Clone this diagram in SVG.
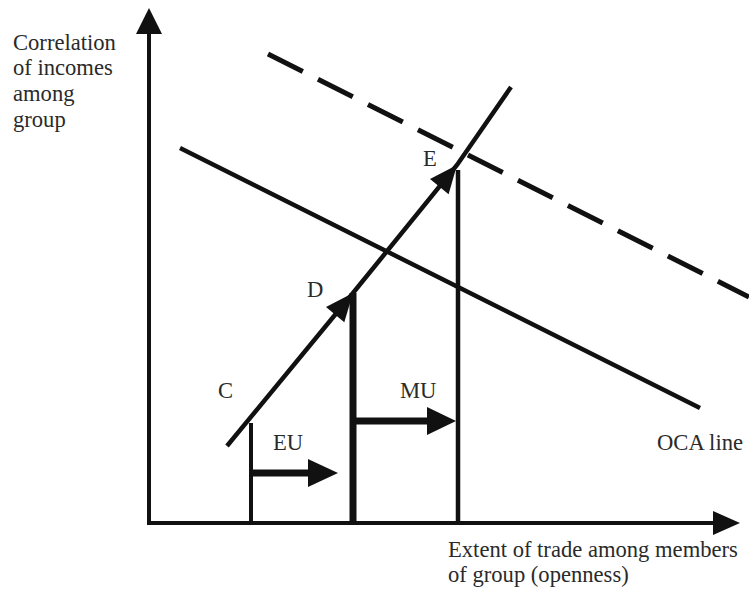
<svg xmlns="http://www.w3.org/2000/svg" width="749" height="602" viewBox="0 0 749 602">
<style>
.t{font-family:"Liberation Serif","Times New Roman",serif;font-size:22.6px;fill:#2a2a2a}
.ln{stroke:#111;fill:none;stroke-linecap:butt}
.hd{fill:#111;stroke:none}
</style>
<rect width="749" height="602" fill="#fff"/>
<g id="axes">
<line class="ln" x1="149" y1="525" x2="149" y2="30" stroke-width="4"/>
<polygon class="hd" points="149,8 162,34 136,34"/>
<line class="ln" x1="147" y1="523" x2="716" y2="523" stroke-width="4"/>
<polygon class="hd" points="740,523 713,511 713,535"/>
</g>
<g id="y-label">
<text class="t" x="13" y="50">Correlation</text>
<text class="t" x="13" y="75">of incomes</text>
<text class="t" x="13" y="101">among</text>
<text class="t" x="13" y="127">group</text>
</g>
<g id="x-label">
<text class="t" x="448" y="557">Extent of trade among members</text>
<text class="t" x="448" y="582">of group (openness)</text>
</g>
<g id="oca-line">
<line class="ln" x1="180" y1="148" x2="700" y2="408" stroke-width="4.5" stroke-linecap="round"/>
<text class="t" x="657" y="450">OCA line</text>
</g>
<g id="dashed-line">
<line class="ln" x1="268" y1="54" x2="749" y2="297" stroke-width="5" stroke-dasharray="39 17"/>
</g>
<g id="connectors">
<polyline class="ln" points="227,446 353,293 457,165 511,87" stroke-width="4.5" stroke-linecap="round"/>
<polygon class="hd" points="353,293 344.3,322.3 326,307"/>
<polygon class="hd" points="457,165 448.6,194.3 430,179.1"/>
<line class="ln" x1="251" y1="423" x2="251" y2="523" stroke-width="4"/>
<line class="ln" x1="353" y1="293" x2="353" y2="523" stroke-width="7"/>
<line class="ln" x1="458" y1="170" x2="458" y2="523" stroke-width="4.5"/>
<line class="ln" x1="251" y1="473" x2="310" y2="473" stroke-width="7"/>
<polygon class="hd" points="308,459 338,473 308,487"/>
<line class="ln" x1="353" y1="421" x2="429" y2="421" stroke-width="7"/>
<polygon class="hd" points="427,407 456,421 427,435"/>
</g>
<g id="node-C"><text class="t" x="218" y="398">C</text></g>
<g id="node-D"><text class="t" x="307" y="297">D</text></g>
<g id="node-E"><text class="t" x="423" y="166">E</text></g>
<g id="label-EU"><text class="t" x="273" y="450">EU</text></g>
<g id="label-MU"><text class="t" x="400" y="398">MU</text></g>
</svg>
